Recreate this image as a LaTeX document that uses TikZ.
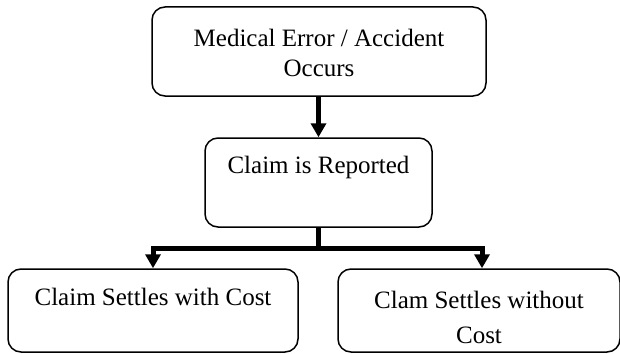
\documentclass[tikz,border=0pt]{standalone}
\usepackage{fontspec}
\setmainfont{Liberation Serif}
\usetikzlibrary{arrows.meta}
\begin{document}
\begin{tikzpicture}[x=1pt,y=-1pt,
  box/.style={draw=black, line width=1.5pt, rounded corners=13pt, inner sep=0pt},
  txt/.style={font=\fontsize{25}{30}\selectfont, align=center, inner sep=0pt},
  link/.style={line width=5pt},
  arr/.style={line width=5pt, -{Triangle[width=15pt,length=14pt]}}]
\useasboundingbox (0,0) rectangle (620,353);
\node[box, minimum width=334pt, minimum height=89pt] (top) at (319,51.5) {};
\node[txt] (toptxt) at (319,53) {Medical Error / Accident\\Occurs};
\node[box, minimum width=227pt, minimum height=89pt] (mid) at (318.5,182.5) {};
\node[txt] (midtxt) at (318.5,167) {Claim is Reported};
\node[box, minimum width=290pt, minimum height=83pt] (bl) at (153,310.5) {};
\node[txt] (bltxt) at (153,297) {Claim Settles with Cost};
\node[box, minimum width=282pt, minimum height=83pt] (br) at (479,310.5) {};
\node[txt, font=\fontsize{25}{35}\selectfont] (brtxt) at (479,317.5) {Clam Settles without\\Cost};
\coordinate (split) at (318.5,248);
\draw[arr] (top.south -| mid.north) -- (mid.north);
\draw[link] (mid.south) -- (split);
\draw[arr] (split) -| (bl.north);
\draw[arr] (split) -| ([xshift=3pt]br.north);
\end{tikzpicture}
\end{document}
